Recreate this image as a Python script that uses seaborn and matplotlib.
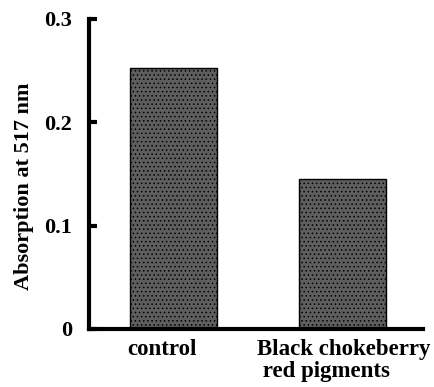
import pandas as pd
import matplotlib
matplotlib.use("Agg")
import matplotlib.pyplot as plt
import matplotlib.transforms as mtransforms
import seaborn as sns

# Data
categories = ["control", "Black chokeberry\n red pigments"]
absorption = [0.253, 0.145]

sns.set_style("ticks", {"axes.edgecolor": "black", "text.color": "black",
                        "xtick.color": "black", "ytick.color": "black",
                        "axes.labelcolor": "black"})
plt.rcParams['font.family'] = ['Liberation Serif', 'DejaVu Serif']
plt.rcParams['font.weight'] = 'bold'
plt.rcParams['hatch.color'] = '#a0a0a0'
plt.rcParams['hatch.linewidth'] = 0.6

df = pd.DataFrame({"sample": categories, "absorption": absorption})

fig = plt.figure(figsize=(4.34, 3.87), dpi=100)
ax = fig.add_axes([0.205, 0.150, 0.770, 0.801])

sns.barplot(data=df, x="sample", y="absorption", ax=ax, color="#5e5e5e",
            width=0.515, edgecolor="black", linewidth=1.0, saturation=1)
for p in ax.patches:
    p.set_hatch("....")

ax.set_xlim(-0.5, 1.48)
ax.set_ylim(0, 0.3)
ax.set_yticks([0, 0.1, 0.2, 0.3])
ax.set_yticklabels(["0", "0.1", "0.2", "0.3"])
ax.tick_params(axis="y", direction="in", length=6, width=3, labelsize=16, pad=12)
ax.tick_params(axis="x", length=0, labelsize=16.5, pad=7)
for lbl in ax.get_yticklabels() + ax.get_xticklabels():
    lbl.set_fontweight("bold")
for lbl in ax.get_xticklabels():
    lbl.set_linespacing(1.1)
    lbl.set_multialignment("left")

# nudge x tick labels like in the original figure
xl = ax.get_xticklabels()
xl[0].set_transform(xl[0].get_transform() +
                    mtransforms.ScaledTranslation(-0.11, 0, fig.dpi_scale_trans))
xl[1].set_transform(xl[1].get_transform() +
                    mtransforms.ScaledTranslation(0.02, 0, fig.dpi_scale_trans))

ax.set_xlabel("")
ax.set_ylabel("Absorption at 517 nm", fontsize=16, fontweight="bold")
ax.yaxis.set_label_coords(-0.165, 0.46)

sns.despine(ax=ax)
ax.spines["left"].set_linewidth(3)
ax.spines["bottom"].set_linewidth(3)

fig.savefig("out.png", dpi=100)
